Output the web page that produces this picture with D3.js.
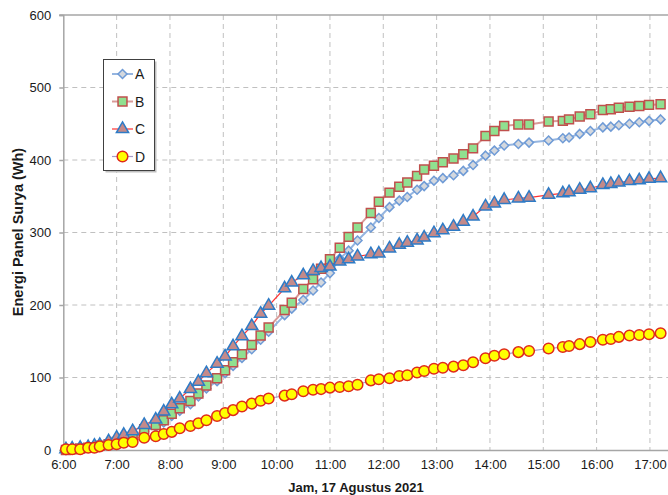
<!DOCTYPE html>
<html>
<head>
<meta charset="utf-8">
<script src="https://cdn.jsdelivr.net/npm/d3@7"></script>
<style>
  html, body { margin: 0; padding: 0; background: #fff; }
  svg { display: block; font-family: "Liberation Sans", Arial, sans-serif; }
</style>
</head>
<body>
<svg id="chart" width="668" height="495"></svg>
<script>
// ---- data ----
const times = ["6:03","6:10","6:19","6:28","6:35","6:41","6:51","7:00","7:08","7:18",
  "7:31","7:44","7:53","8:02","8:11","8:23","8:32","8:41","8:53","9:02",
  "9:11","9:21","9:32","9:42","9:51","10:09","10:17","10:30","10:41","10:50",
  "11:00","11:11","11:21","11:31","11:46","11:55","12:07","12:18","12:27","12:38",
  "12:46","12:57","13:07","13:19","13:30","13:41","13:55","14:05","14:16","14:32",
  "14:44","15:06","15:22","15:29","15:41","15:53","16:07","16:16","16:25","16:37",
  "16:48","16:59","17:12"];
const seriesA = [0,1,2,3,4,5,7,10,13,17, 26,32,38,47,54,63,74,85,95,106,
  116,127,139,152,163,186,195,207,220,231, 244,264,275,289,307,320,335,344,349,359,
  364,371.5,375,379,385,393,406,413,420,422, 424,427,430,431,436,440,445,446,448,450,
  452,454,456];
const seriesB = [0,1,2,3,4,6,8,11,14,18, 28.5,34.5,41,50,57.5,67.5,78,89,99,110,
  121,132,145,158,169,193,203,222,235.5,250, 263,279,294,307,327,342.5,355,363,369,378,
  387,392,397,402,408,416,433,440,447,449, 449,453,454,456,460,463,469,470,472,473.5,
  474.5,476,477];
const seriesC = [1,2,3,4,6,7,12,17,21,26, 34.5,42,53,63,71,84,94,106,119,129,
  143,157,171,188,199,223,231,241,247,251, 253,260,263,267,270,271,278,283,286,289,
  293,299,303,308,315,322,336,340,345,347, 348,352,354,355.5,359,361,365.5,367,369,371,
  372,374,375];
const seriesD = [1,1,1,3,3,5,7,8,10,11, 17,19,22,25,30,33,37,41,47,51,
  55,60,64,68,71,75,77,81,83,84, 86,87,88,90,96,97.5,99,102,103,107,
  109,112,113.5,115,117,121,126.5,130,132,135, 136.5,140,142,143.5,146,149,152,153,156,158,
  158.6,159.6,161];
const seriesNames = ["A","B","C","D"];
const yTicks = [0,100,200,300,400,500,600];
const xTickLabels = ["6:00","7:00","8:00","9:00","10:00","11:00","12:00","13:00","14:00","15:00","16:00","17:00"];
const xTitle = "Jam, 17 Agustus 2021";
const yTitle = "Energi Panel Surya (Wh)";

// ---- setup ----
const svg = d3.select("#chart");
const parse = d3.timeParse("%H:%M");
const pLeft = 63.3, pTop = 15, pBottom = 450, hourPx = 53.33;
const x = d3.scaleTime().domain([parse("6:00"), parse("18:00")]).range([pLeft, pLeft + 12 * hourPx]);
const y = d3.scaleLinear().domain([0, 600]).range([pBottom, pTop]);
const tx = times.map(parse);

// square-ish diamond symbol
const symbolRhombus = {
  draw(ctx, size) {
    const r = Math.sqrt(size / 2);
    ctx.moveTo(0, -r); ctx.lineTo(r, 0); ctx.lineTo(0, r); ctx.lineTo(-r, 0); ctx.closePath();
  }
};

// gridlines
const grid = svg.append("g");
grid.selectAll("line.h").data(yTicks.filter(v => v > 0 && v < 600)).join("line")
  .attr("x1", pLeft).attr("x2", 668).attr("y1", d => y(d)).attr("y2", d => y(d))
  .attr("stroke", "#c0c0c0").attr("stroke-width", 1).attr("stroke-dasharray", "5,4");
grid.selectAll("line.v").data(xTickLabels.slice(1).map(parse)).join("line")
  .attr("x1", d => x(d)).attr("x2", d => x(d)).attr("y1", pTop).attr("y2", pBottom)
  .attr("stroke", "#c0c0c0").attr("stroke-width", 1).attr("stroke-dasharray", "5,4");

// top border
svg.append("line").attr("x1", pLeft - 4).attr("x2", 668).attr("y1", y(600)).attr("y2", y(600))
  .attr("stroke", "#a6a6a6").attr("stroke-width", 1.5);

// axes
const yAxis = d3.axisLeft(y).tickValues(yTicks).tickSize(4).tickPadding(8);
const gy = svg.append("g").attr("transform", `translate(${pLeft},0)`).call(yAxis);
gy.select(".domain").attr("stroke", "#a6a6a6").attr("stroke-width", 1.5);
gy.selectAll(".tick line").attr("stroke", "#a6a6a6").attr("stroke-width", 1.5);
gy.selectAll(".tick text").attr("font-size", 13).attr("fill", "#1a1a1a")
  .attr("font-family", "Liberation Sans, Arial, sans-serif");

const xAxis = d3.axisBottom(x).tickValues(xTickLabels.map(parse))
  .tickFormat(d3.timeFormat("%-H:%M")).tickSize(0).tickPadding(10);
const gx = svg.append("g").attr("transform", `translate(0,${pBottom})`).call(xAxis);
gx.select(".domain").attr("stroke", "#a6a6a6").attr("stroke-width", 1.5);
gx.selectAll(".tick text").attr("font-size", 13).attr("fill", "#1a1a1a")
  .attr("font-family", "Liberation Sans, Arial, sans-serif");

// titles
svg.append("text").attr("x", 356).attr("y", 492).attr("text-anchor", "middle")
  .attr("font-size", 13).attr("font-weight", "bold").attr("fill", "#1a1a1a").text(xTitle);
svg.append("text").attr("transform", `translate(23,232) rotate(-90)`).attr("text-anchor", "middle")
  .attr("font-size", 14.5).attr("font-weight", "bold").attr("fill", "#1a1a1a").text(yTitle);

// series definitions
const styles = [
  {name: seriesNames[0], values: seriesA, line: "#95b5e0", lw: 2, shape: symbolRhombus, size: 40, fill: "#d4d8de", stroke: "#6f9bd6"},
  {name: seriesNames[1], values: seriesB, line: "#d99a98", lw: 2, shape: d3.symbolSquare, size: 80, fill: "#90e090", stroke: "#c0504d"},
  {name: seriesNames[2], values: seriesC, line: "#ff3333", lw: 1.2, shape: d3.symbolTriangle, size: 64, fill: "#c48a8a", stroke: "#2e7bc6"},
  {name: seriesNames[3], values: seriesD, line: "#a89cc8", lw: 1.2, shape: d3.symbolCircle, size: 88, fill: "#ffff00", stroke: "#e02a1a"}
];

const lineGen = d3.line().x((d, i) => x(tx[i])).y(d => y(d));
const plot = svg.append("g");
styles.forEach(s => {
  const g = plot.append("g");
  g.append("path").datum(s.values).attr("d", lineGen).attr("fill", "none")
    .attr("stroke", s.line).attr("stroke-width", s.lw);
  g.selectAll("path.m").data(s.values).join("path").attr("class", "m")
    .attr("transform", (d, i) => `translate(${x(tx[i])},${y(d)})`)
    .attr("d", d3.symbol().type(s.shape).size(s.size))
    .attr("fill", s.fill).attr("stroke", s.stroke).attr("stroke-width", 1.5);
});

// legend
const lg = svg.append("g");
lg.append("rect").attr("x", 105.5).attr("y", 61.5).attr("width", 51).attr("height", 111).attr("fill", "#bfbfbf");
lg.append("rect").attr("x", 103.5).attr("y", 59.5).attr("width", 51).attr("height", 111)
  .attr("fill", "#fff").attr("stroke", "#404040").attr("stroke-width", 1);
const legY = [74, 101.5, 129, 156.5];
styles.forEach((s, i) => {
  lg.append("line").attr("x1", 112).attr("x2", 133).attr("y1", legY[i]).attr("y2", legY[i])
    .attr("stroke", s.line).attr("stroke-width", s.lw);
  lg.append("path").attr("transform", `translate(122.5,${legY[i]})`)
    .attr("d", d3.symbol().type(s.shape).size(s.size))
    .attr("fill", s.fill).attr("stroke", s.stroke).attr("stroke-width", 1.5);
  lg.append("text").attr("x", 135).attr("y", legY[i] + 5).attr("font-size", 14)
    .attr("fill", "#1a1a1a").text(s.name);
});
</script>
</body>
</html>
